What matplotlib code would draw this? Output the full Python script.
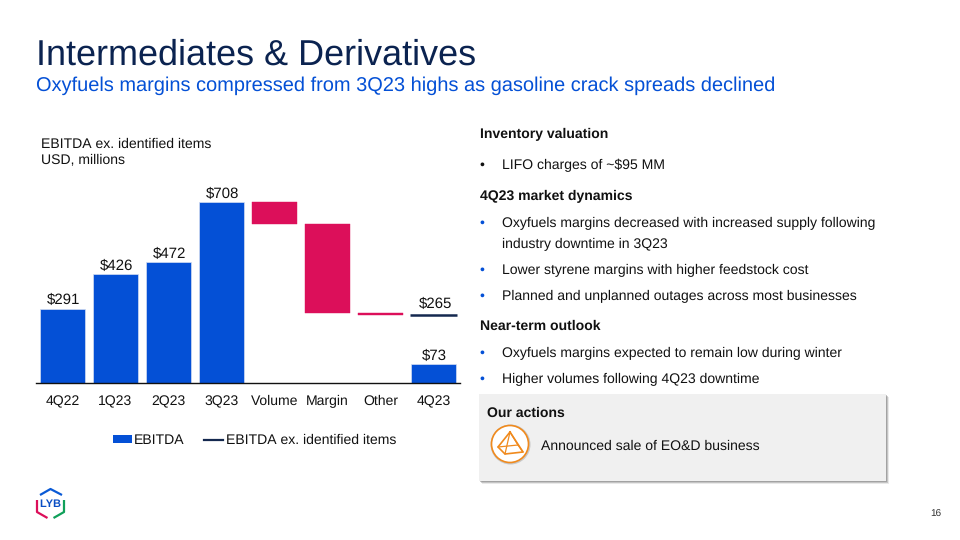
import matplotlib
matplotlib.use('Agg')
import matplotlib.pyplot as plt
from matplotlib.patches import Rectangle, Circle
from matplotlib.lines import Line2D

plt.rcParams['font.family'] = ['Liberation Sans', 'DejaVu Sans']
plt.rcParams['text.hinting'] = 'no_hinting'
plt.rcParams['text.hinting_factor'] = 1

# chart data, USD millions
categories = ['4Q22', '1Q23', '2Q23', '3Q23', 'Volume', 'Margin', 'Other', '4Q23']
ebitda_pos = [0, 1, 2, 3, 7]
ebitda = [291, 426, 472, 708, 73]
bridge_pos = [4, 5, 6]
bridge_top = [708, 622, 275]
bridge_bottom = [622, 275, 265]
ex_items_pos = 7
ex_items = 265

BLUE = '#0450d6'
RED = '#dc0f5a'
NAVY = '#14284f'
ORANGE = '#f08a1d'
W, H = 960, 540

fig = plt.figure(figsize=(9.6, 5.4), dpi=100)

# overlay in pixel coords for the slide furniture
bg = fig.add_axes([0, 0, 1, 1])
bg.set_xlim(0, W)
bg.set_ylim(H, 0)
bg.axis('off')

bg.text(36, 55, 'Intermediates & Derivatives', fontsize=25.8, color='#0b2350', va='center')
bg.text(36, 86, 'Oxyfuels margins compressed from 3Q23 highs as gasoline crack spreads declined',
        fontsize=14.4, color=BLUE, va='center')
bg.text(41, 144, 'EBITDA ex. identified items', fontsize=10.1, color='#111111', va='center')
bg.text(41, 160, 'USD, millions', fontsize=10.1, color='#111111', va='center')

# right hand text column
headers = [('Inventory valuation', 134), ('4Q23 market dynamics', 196), ('Near-term outlook', 326)]
for txt, y in headers:
    bg.text(480, y, txt, fontsize=10, fontweight='bold', color='#111111', va='center')

bullets = [('LIFO charges of ~$95 MM', 165, '#111111'),
           ('Oxyfuels margins decreased with increased supply following', 223, BLUE),
           ('Lower styrene margins with higher feedstock cost', 270, BLUE),
           ('Planned and unplanned outages across most businesses', 296, BLUE),
           ('Oxyfuels margins expected to remain low during winter', 353, BLUE),
           ('Higher volumes following 4Q23 downtime', 379, BLUE)]
for txt, y, c in bullets:
    bg.text(479, y, '•', fontsize=10, color=c, va='center')
    bg.text(502, y, txt, fontsize=10, color='#111111', va='center')
bg.text(502, 244, 'industry downtime in 3Q23', fontsize=10, color='#111111', va='center')

# actions box with a soft drop shadow
for off, a in [(3, 0.15), (2, 0.3), (1, 0.4)]:
    bg.add_patch(Rectangle((479 + off, 394 + off), 407, 87, fc='#707070', ec='none', alpha=a))
bg.add_patch(Rectangle((479, 394), 407, 87, fc='#f0f0f0', ec='none'))
bg.text(487, 413, 'Our actions', fontsize=10, fontweight='bold', color='#111111', va='center')
bg.text(541, 446, 'Announced sale of EO&D business', fontsize=10, color='#111111', va='center')

# orange pyramid icon
bg.add_patch(Circle((510.5, 444.5), 20, fc='#c8c8c8', ec='none'))
bg.add_patch(Circle((510, 444), 18.5, fc='white', ec=ORANGE, lw=1.2))
bg.plot([510, 498, 505, 523, 510], [432, 447, 454, 452, 432], color=ORANGE, lw=1.2)
bg.plot([510, 505], [432, 454], color=ORANGE, lw=0.9)
bg.plot([498, 518, 523], [447, 445, 452], color=ORANGE, lw=0.9)
bg.plot([510, 518], [432, 445], color=ORANGE, lw=0.9)

# logo
bg.plot([40, 50.5, 62], [495, 489, 495], color='#0a5ad6', lw=1.6, solid_capstyle='butt')
bg.plot([37, 37, 47.5], [500, 512, 518], color='#dc0f5a', lw=1.6, solid_capstyle='butt')
bg.plot([64, 64, 53.5], [500, 512, 518], color='#10a05a', lw=1.6, solid_capstyle='butt')
bg.text(50.5, 504.5, 'LYB', fontsize=7.6, fontweight='bold', color='#0a4ec4', ha='center', va='center')

bg.text(941, 514, '16', fontsize=7, color='#333333', ha='right', va='center')

# the chart itself, x-axis at y=383px, 708 at y=202px
ax = fig.add_axes([36 / W, 1 - 383 / H, 424 / W, 181 / H])
ax.patch.set_alpha(0)
ax.set_xlim(-0.5, 7.5)
ax.set_ylim(0, 708)

ax.bar(ebitda_pos, ebitda, width=0.86, color=BLUE, edgecolor='#d5dff2', linewidth=0.5,
       label='EBITDA', clip_on=False)
heights = [t - b for t, b in zip(bridge_top, bridge_bottom)]
ax.bar(bridge_pos, heights, bottom=bridge_bottom, width=0.86, color=RED, edgecolor=RED,
       linewidth=0.3, clip_on=False)
ax.plot([ex_items_pos - 0.44, ex_items_pos + 0.44], [ex_items, ex_items], color=NAVY, lw=1.8,
        solid_capstyle='butt')

for x, v in zip(ebitda_pos, ebitda):
    ax.annotate(f'${v}', (x, v), xytext=(0.8, 0.8), textcoords='offset points', ha='center', va='bottom',
                fontsize=10.6, color='#111111', annotation_clip=False)
ax.annotate(f'${ex_items}', (ex_items_pos, ex_items), xytext=(1.2, 2.8), textcoords='offset points',
            ha='center', va='bottom', fontsize=10.6, color='#111111')

for s in ['top', 'left', 'right']:
    ax.spines[s].set_visible(False)
ax.spines['bottom'].set_color('#111111')
ax.spines['bottom'].set_linewidth(1.0)
ax.set_yticks([])
ax.set_xticks(range(len(categories)))
ax.set_xticklabels(categories, fontsize=10.1, color='#111111')
ax.tick_params(axis='x', length=0, pad=16)
# same baseline for all the labels, whatever their descenders
for t in ax.get_xticklabels():
    t.set_va('baseline')

handles = [Rectangle((0, 0), 1, 1, fc=BLUE, ec='none'), Line2D([0], [0], color=NAVY, lw=1.6)]
ax.legend(handles, ['EBITDA', 'EBITDA ex. identified items'], ncol=2, frameon=False, fontsize=10.1,
          loc='center', bbox_to_anchor=(218.5 / 424, -57.5 / 181), handlelength=1.36, handleheight=0.45,
          handletextpad=0.15, columnspacing=1.4, labelcolor='#111111')

fig.savefig('out.png', dpi=100)
